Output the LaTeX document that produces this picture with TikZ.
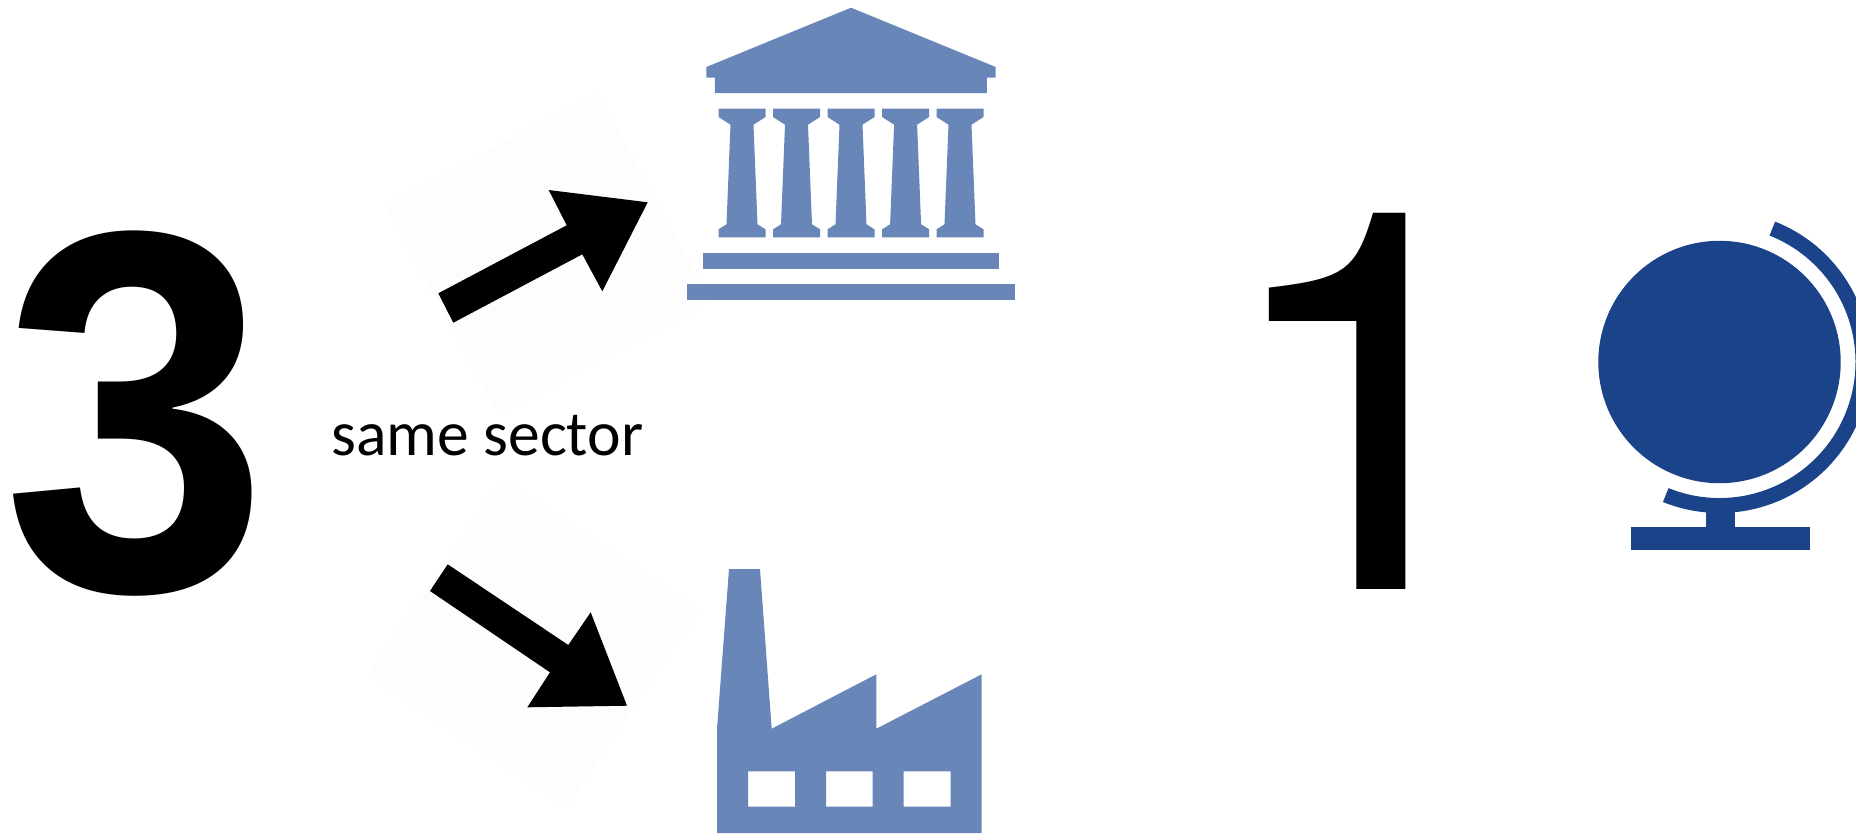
\documentclass[tikz,border=0pt]{standalone}
\usepackage{fontspec}
\setmainfont{TeX Gyre Heros}
\newfontfamily\liber{Liberation Sans}
\newfontfamily\calib[Ligatures=NoCommon]{Carlito}
\definecolor{slateblue}{HTML}{6986B8}
\definecolor{globeblue}{HTML}{1B4389}
\definecolor{faint}{HTML}{FDFDFD}
\tikzset{
  digit/.style={inner sep=0pt,outer sep=0pt,anchor=base west,text=black},
  iconA/.style={fill=slateblue,draw=none},
  iconB/.style={fill=globeblue,draw=none},
  patch/.style={fill=faint,draw=none},
  bigarrow/.style={fill=black,draw=none}
}
\begin{document}
\begin{tikzpicture}[x=0.75pt,y=-0.75pt]
\useasboundingbox (0,0) rectangle (1856,833);
\clip (0,0) rectangle (1856,833);
% faint backing squares of the arrows
\fill[patch] (598,92) -- (385,205) -- (498,415) -- (711,302) -- cycle;
\fill[patch] (503,478) -- (367,675) -- (566,808) -- (700,610) -- cycle;
% arrows
\fill[bigarrow] (438.3,293.3) -- (453.3,322.7) -- (582.3,254.3) -- (602.3,291.3) -- (647.7,202.3) -- (548.7,190) -- (566.7,225.3) -- cycle;
\fill[bigarrow] (447.7,564.3) -- (430,591) -- (550,672.3) -- (527.3,707.3) -- (627,705.7) -- (590.7,612.3) -- (568.3,645) -- cycle;
% digits and label
\node[digit,font=\liber\bfseries\fontsize{378.75pt}{400pt}\selectfont] (three) at (2.6,590) {\scalebox{0.95}[1.02]{3}};
\node[digit,font=\fontsize{398pt}{400pt}\selectfont] (one) at (1212.5,589) {\scalebox{1.05}[1]{1}};
\node[inner sep=0pt,anchor=base west,font=\calib\fontsize{47.7pt}{56pt}\selectfont] (label) at (331,455) {same sector};
% institution
\fill[iconA] (851,7.7) -- (995.7,67) -- (995.7,77.7) -- (986.9,77.7) -- (986.9,93) -- (714.8,93) -- (714.8,77.7) -- (706.4,77.7) -- (706.4,67) -- cycle;
\foreach \cx in {742,796.5,851,905.6,960}{
  \fill[iconA] (\cx-23.5,108.7) -- (\cx+23.5,108.7) -- (\cx+23.5,117) -- (\cx+11.5,124.7) -- (\cx+15.5,224.3) -- (\cx+23.5,229.3) -- (\cx+23.5,237.3) -- (\cx-23.5,237.3) -- (\cx-23.5,229.3) -- (\cx-15.5,224.3) -- (\cx-11.5,124.7) -- (\cx-23.5,117) -- cycle;
}
\fill[iconA] (703,253) rectangle (998.8,268.5);
\fill[iconA] (687.3,284) rectangle (1014.5,299.7);
% factory
\fill[iconA,even odd rule] (717,833) -- (717,728.7) -- (729,569) -- (760,569) -- (771.7,728.7) -- (876.3,674.3) -- (876.3,728.7) -- (981.7,674.3) -- (981.7,833) -- cycle
  (748,771.3) rectangle (795,806.7)
  (826,771.3) rectangle (872.7,806.7)
  (903.7,771.3) rectangle (950.7,806.7);
% globe
\fill[iconB] (1719.5,362) circle (121.2);
\fill[iconB] (1719.5,362) ++(-68.4:151) arc[start angle=-68.4,end angle=112,radius=151] -- ++(292:15) arc[start angle=112,end angle=-68.4,radius=136] -- cycle;
\fill[iconB] (1705.7,505) rectangle (1735.3,527);
\fill[iconB] (1630.7,527) rectangle (1810,549.7);
\end{tikzpicture}
\end{document}
